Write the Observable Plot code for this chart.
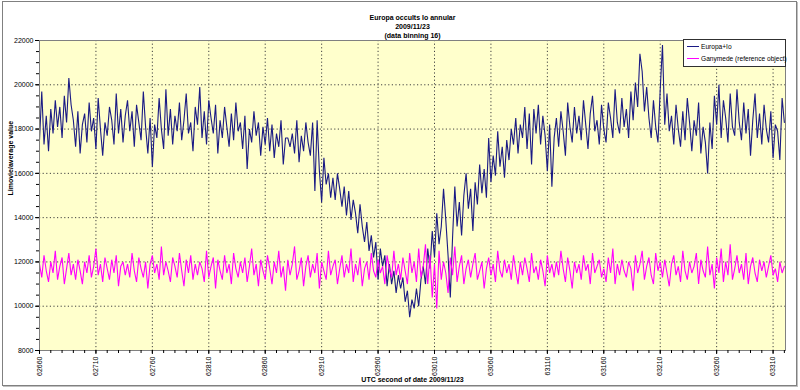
<!DOCTYPE html>
<html>
<head>
<meta charset="utf-8">
<script src="https://cdn.jsdelivr.net/npm/d3@7"></script>
<script src="https://cdn.jsdelivr.net/npm/@observablehq/plot@0.6"></script>
<style>
  html, body { margin: 0; padding: 0; background: #fff; }
  #wrap { position: relative; width: 800px; height: 390px; overflow: hidden; font-family: "Liberation Sans", Arial, sans-serif; }
  #border { position: absolute; left: 2px; top: 1px; width: 793px; height: 383px; border: 1px solid #808080; box-shadow: 1px 1px 0 #c0c0c0; pointer-events: none; }
  #legend { position: absolute; left: 683px; top: 39px; width: 101px; height: 26px; background: #fff; border: 1px solid #303030; font-size: 6.6px; }
  .li { position: absolute; left: 3px; height: 10px; width: 98px; }
  .li .sw { position: absolute; left: 0; top: 4px; width: 12px; height: 1px; }
  .li span { position: absolute; left: 14px; top: 0; line-height: 10px; white-space: nowrap; }
</style>
</head>
<body>
<div id="wrap"></div>
<script>
const titleLines = ["Europa occults Io annular", "2009/11/23", "(data binning 16)"];
const xLabel = "UTC second of date 2009/11/23";
const yLabel = "Limovie/average value";
const seriesNames = ["Europa+Io", "Ganymede (reference object)"];
const seriesColors = ["#1a1a84", "#ff00ff"];
const xTicks = [62660, 62710, 62760, 62810, 62860, 62910, 62960, 63010, 63060, 63110, 63160, 63210, 63260, 63310];
const yTicks = [8000, 10000, 12000, 14000, 16000, 18000, 20000, 22000];
const startSecond = 62660;
const stepSeconds = 2;

const europa = [
  17500, 19700, 17300, 18600, 17000, 18900, 17800, 19300, 18100, 19000,
  17600, 19500, 18300, 20300, 19100, 18400, 17200, 18800, 16900, 18200,
  18700, 17400, 19200, 17900, 18500, 17100, 19400, 18000, 16800, 18300,
  17700, 19000, 18400, 17300, 19600, 17800, 18900, 17400, 18600, 19300,
  17900, 18800, 17200, 19100, 18300, 17500, 19700, 18100, 16900, 18500,
  16300, 18200, 17600, 19400, 18000, 17100, 19800, 17700, 18900, 17300,
  18600, 17900, 19200, 17500, 18400, 19600, 17800, 18300, 17000, 19000,
  18200, 19900, 17600, 18800, 17300, 19300, 18500, 17800, 19100, 16900,
  18400, 17600, 19000, 18100, 17200, 18700, 17500, 19200, 17900, 18300,
  17100, 18600, 16200, 18000, 17400, 18800, 17700, 18300, 16800, 18100,
  17300, 18500, 17000, 18200, 16700, 17800, 17200, 18400, 16400, 17600,
  17600, 17200, 17800, 16900, 18400, 16500, 17700, 17000, 18300, 17400,
  16800, 18300, 15200, 18400, 16100, 14700, 16700, 15500, 16000, 14900,
  15800, 14800, 16000, 15300, 14500, 15400, 14100, 15200, 13900, 14800,
  14200, 13300, 14600, 13600, 12900, 13800, 12500, 13200, 12200, 12900,
  11200, 12600, 11800, 12300, 10900, 11900, 11000, 11600, 10600, 11400,
  10800, 11300, 10200, 10700, 9500, 10300, 9900, 10800, 10000, 11200,
  11800, 11000, 12600, 11700, 13400, 12200, 14200, 12800, 13600, 15300,
  13900, 12300, 10400, 13100, 15400, 13600, 14700, 13200, 15000, 16000,
  14400, 15300, 13400, 15600, 14600, 16400, 15100, 16200, 14900, 17600,
  15600, 16800, 15900, 17900, 16300, 17200, 15800, 17500, 16600, 18000,
  17300, 18500, 16900, 18200, 17600, 19000, 17100, 18700, 16400, 18900,
  17800, 19100, 17300, 18600, 17700, 16100, 18200, 15400, 17600, 18500,
  17200, 18800, 17900, 16800, 19200, 18100, 17400, 19000, 17800, 18600,
  17500, 19300, 18200, 17100, 18700, 19500, 17900, 18400, 17300, 19100,
  18000, 17400, 19200, 18500, 17600, 19800, 18300, 17800, 19400, 18100,
  18900, 17600, 19700, 18400, 20100, 19000, 21400, 20600, 18800, 19900,
  18500, 17600, 19300, 18100, 17400, 19800, 21800, 18200, 19600, 17900,
  18600, 17300, 19100, 18000, 17200, 18800, 17500, 19400, 18300, 17000,
  18400, 17700, 19200, 16900, 18100, 17400, 16000, 18300, 17100, 19500,
  18200, 20000, 17600, 19300, 18500, 17400, 19600, 18100, 17700, 19800,
  18300, 17500, 19200, 17800, 18900, 16800, 18400, 19600, 17600, 18700,
  17300, 19100, 18000, 17400, 18800, 16700, 18200, 17900, 16600, 19400,
  18300
];

const ganymede = [
  11900, 11300, 12300, 11600, 11100, 12000, 11500, 12500, 11200, 11800,
  12200, 11000, 11700, 12400, 11400, 11900, 11200, 12100, 11600, 11000,
  12000, 11500, 12300, 11300, 11800, 12600, 11400, 11900, 11100, 12200,
  11700, 11200, 12100, 11500, 12300, 10900, 11800, 12000, 11400, 11900,
  11300, 12400, 11600, 11100, 12200, 11700, 11300, 12000, 10800, 11900,
  12300, 11500, 11900, 11200, 12700, 11400, 12000, 11600, 11100, 12200,
  11800, 11300, 12400, 11600, 10900, 12100, 11500, 12300, 11200, 11900,
  11400, 12000, 11700, 11100, 12500, 11300, 11800, 12200, 10800, 12100,
  11600, 11200, 12300, 11500, 11900, 11000, 12400, 11700, 11300, 12000,
  11500, 12200, 11100, 11800, 12600, 11400, 11900, 10900, 12100, 11600,
  11200, 12300, 11700, 11000, 12000, 11500, 12500, 11300, 11800, 10700,
  12100, 11400, 11900, 12700, 11200, 11600, 12200, 10900, 11800, 12300,
  11300, 11900, 11500, 12400, 10800, 12000, 11600, 11200, 12500, 11400,
  11800, 12100, 11000, 11700, 12300, 11300, 11900, 11500, 12600, 11100,
  11900, 11400, 12200, 10900, 11700, 12000, 11200, 12400, 11600, 11300,
  12100, 11500, 11800, 11000, 12300, 11700, 11300, 12500, 11400, 11900,
  11200, 12200, 11600, 11000, 12400, 11500, 12000, 11100, 12600, 11300,
  11800, 12800, 11000, 12300, 10400, 11900, 9900, 12500, 11200, 12000,
  11500, 10600, 12200, 11400, 12700, 11100, 11800, 12300, 11000, 11700,
  12100, 11300, 11900, 12400, 11200, 11600, 12000, 10800, 11700, 12200,
  11400, 11900, 11100, 12500, 11600, 11300, 12100, 11500, 11900, 11200,
  12300, 11600, 11000, 12000, 11400, 12200, 11700, 11100, 12400, 11500,
  11800, 11200, 12100, 11600, 10900, 12300, 11500, 11900, 11300, 12000,
  11400, 12500, 11700, 11100, 12200, 11600, 10800, 12000, 11500, 11900,
  11200, 12300, 11600, 11900, 11000, 12400, 11500, 11800, 12100, 11300,
  11700, 11100, 12200, 11500, 12600, 11000, 11900, 11400, 12100, 11600,
  11300, 12000, 11700, 10700, 12300, 11500, 11900, 12500, 11200, 11800,
  12200, 11400, 11000, 12400, 11600, 12000, 11300, 12100, 11500, 10900,
  11900, 12300, 11400, 11800, 11100, 12500, 11600, 11200, 12000, 11500,
  11800, 12400, 11000, 12100, 11600, 11300, 12700, 11400, 11900, 10800,
  12200, 11500, 12600, 11100, 12000, 11400, 12800, 11200, 11700, 12300,
  11500, 11900, 11200, 12400, 11000, 11800, 12200, 11500, 11100, 12100,
  11600, 12000, 11300, 11800, 12300, 11400, 11700, 11100, 12000, 11500,
  11800
];

const rows = [];
europa.forEach((v, i) => rows.push({t: startSecond + i * stepSeconds, v, s: seriesNames[0]}));
ganymede.forEach((v, i) => rows.push({t: startSecond + i * stepSeconds, v, s: seriesNames[1]}));

const font = "'Liberation Sans', Arial, sans-serif";
const grid = {stroke: "#404040", strokeOpacity: 1, strokeDasharray: "1.2,2.4", strokeWidth: 1};

const chart = Plot.plot({
  width: 800,
  height: 390,
  marginLeft: 39,
  marginRight: 15,
  marginTop: 40,
  marginBottom: 40,
  style: {fontFamily: font, fontSize: "7px", background: "transparent", color: "#000"},
  x: {domain: [62660, 63321]},
  y: {domain: [8000, 22000]},
  color: {domain: seriesNames, range: seriesColors},
  marks: [
    Plot.frame({fill: "#ffffcc", stroke: null}),
    Plot.gridY(yTicks.filter(d => d > 8000 && d < 22000), grid),
    Plot.gridX(xTicks.filter(d => d > 62660), grid),
    Plot.line(rows, {x: "t", y: "v", z: "s", stroke: "s", strokeWidth: 1.1, strokeLinejoin: "miter"}),
    Plot.frame({stroke: "#808080"}),
    Plot.axisY({ticks: d3.range(8000, 22001, 500), tickSize: 3, text: null, label: null}),
    Plot.axisY({ticks: yTicks, tickSize: 4, tickPadding: 2, tickFormat: d => String(d), fontSize: 7, label: null}),
    Plot.axisX({ticks: d3.range(62660, 63321, 10), tickSize: 3, text: null, label: null}),
    Plot.axisX({ticks: xTicks, tickSize: 4, tickPadding: 2, tickRotate: -90, tickFormat: d => String(d), fontSize: 7, label: null}),
    Plot.text([xLabel], {text: d => d, frameAnchor: "bottom", dy: 31, fontWeight: "bold", fontSize: 7}),
    Plot.text([yLabel], {text: d => d, frameAnchor: "left", dx: -29, rotate: -90, fontWeight: "bold", fontSize: 7}),
    Plot.text([titleLines[0]], {text: d => d, frameAnchor: "top", dy: -25, fontWeight: "bold", fontSize: 7}),
    Plot.text([titleLines[1]], {text: d => d, frameAnchor: "top", dy: -16, fontWeight: "bold", fontSize: 7}),
    Plot.text([titleLines[2]], {text: d => d, frameAnchor: "top", dy: -7, fontWeight: "bold", fontSize: 7})
  ]
});

const wrap = document.getElementById("wrap");
chart.style.position = "absolute";
chart.style.left = "0px";
chart.style.top = "0px";
wrap.appendChild(chart);

const border = document.createElement("div");
border.id = "border";
wrap.appendChild(border);

const legend = document.createElement("div");
legend.id = "legend";
seriesNames.forEach((name, i) => {
  const li = document.createElement("div");
  li.className = "li";
  li.style.top = (2 + i * 12) + "px";
  const sw = document.createElement("div");
  sw.className = "sw";
  sw.style.background = seriesColors[i];
  const sp = document.createElement("span");
  sp.textContent = name;
  li.appendChild(sw);
  li.appendChild(sp);
  legend.appendChild(li);
});
wrap.appendChild(legend);
</script>
</body>
</html>
